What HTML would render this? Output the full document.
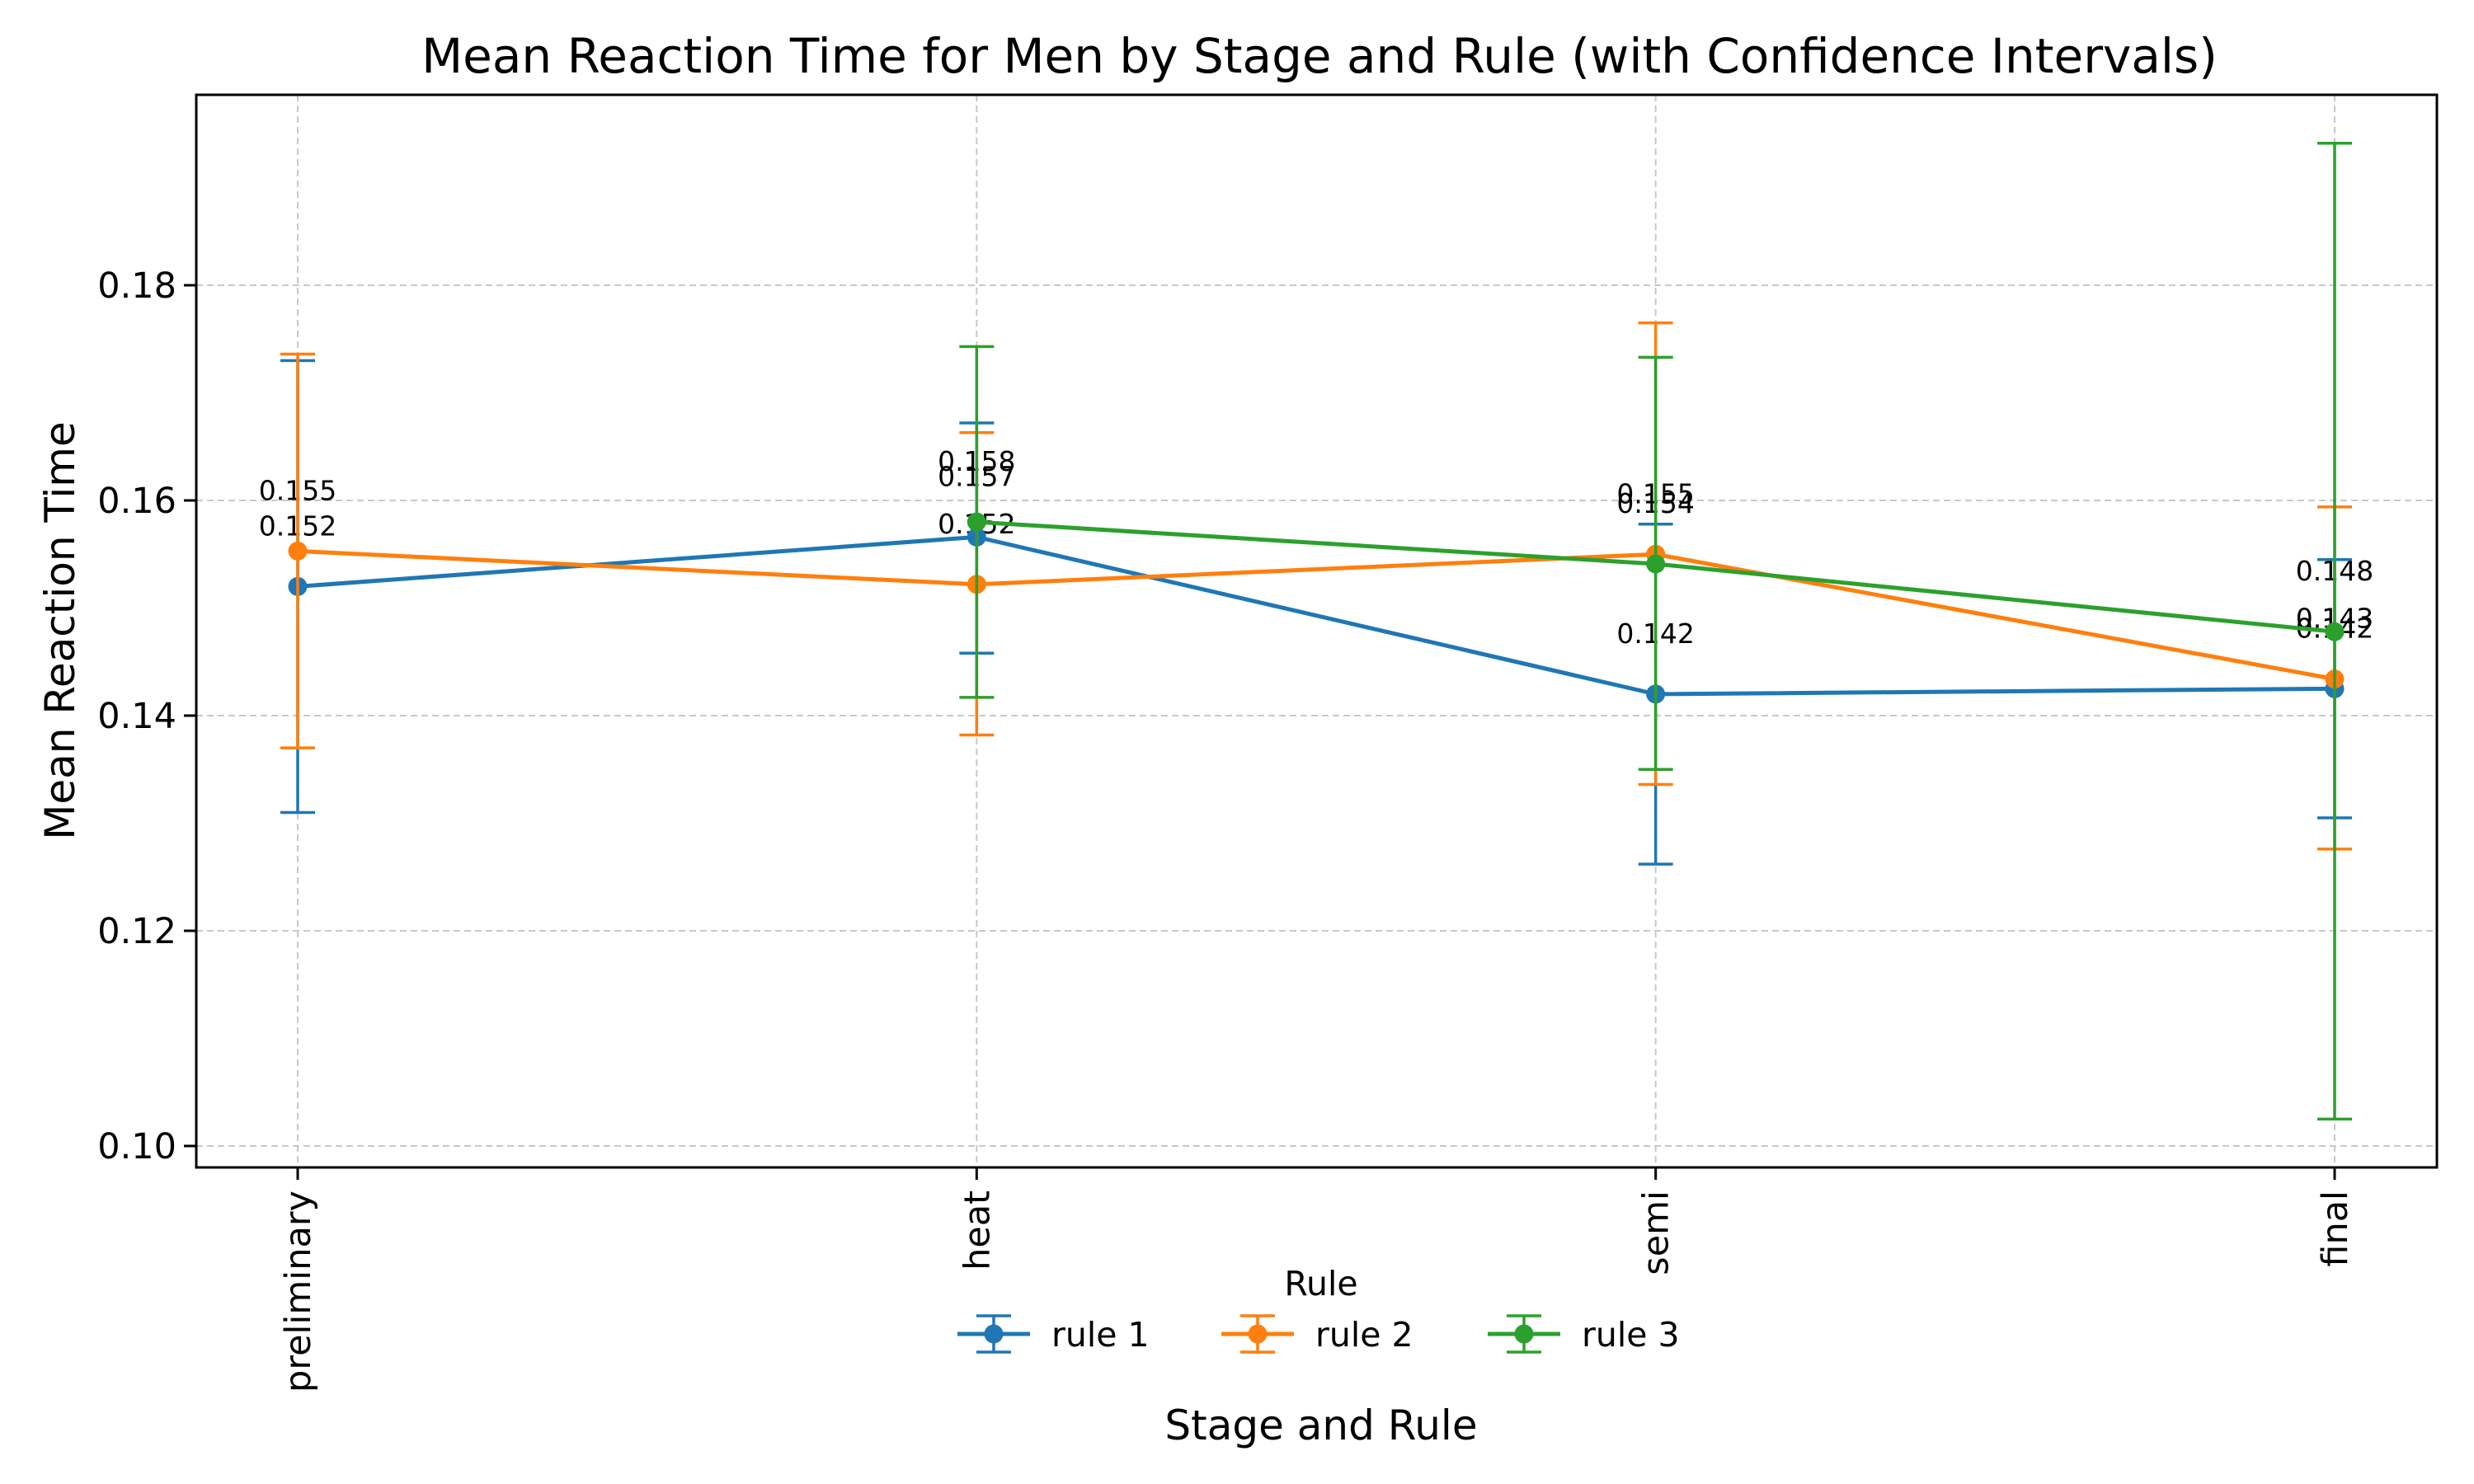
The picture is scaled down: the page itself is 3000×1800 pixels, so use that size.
<!DOCTYPE html>
<html><head><meta charset="utf-8"><style>
html,body{margin:0;padding:0;background:#fff}
svg{display:block;font-family:"DejaVu Sans","Liberation Sans",sans-serif}
</style></head><body>
<svg id="chart" width="3000" height="1800" viewBox="0 0 3000 1800" xmlns="http://www.w3.org/2000/svg">
<rect width="3000" height="1800" fill="#fff"/>
<text x="1600" y="88" font-size="58" text-anchor="middle">Mean Reaction Time for Men by Stage and Rule (with Confidence Intervals)</text>
<g id="grid"></g>
<g id="axes"></g>
<g id="series"></g>
<rect x="238" y="115" width="2717" height="1301" fill="none" stroke="#000" stroke-width="3"/>
<text transform="translate(90,765) rotate(-90)" font-size="50" text-anchor="middle">Mean Reaction Time</text>
<text x="1602" y="1746" font-size="50" text-anchor="middle">Stage and Rule</text>
<g id="legend"></g>
</svg>
<script>
const stages = ["preliminary","heat","semi","final"];
const seriesNames = ["rule 1","rule 2","rule 3"];
const colors = ["#1f77b4","#ff7f0e","#2ca02c"];
const rule1Mean = [0.152, 0.1566, 0.142, 0.1425];
const rule1Low  = [0.131, 0.1458, 0.1262, 0.1305];
const rule1High = [0.173, 0.1672, 0.1578, 0.1545];
const rule2Mean = [0.1553, 0.1522, 0.1550, 0.1434];
const rule2Low  = [0.1370, 0.1382, 0.1336, 0.1276];
const rule2High = [0.1736, 0.1663, 0.1765, 0.1594];
const rule3Mean = [null, 0.158, 0.1541, 0.1478];
const rule3Low  = [null, 0.1417, 0.1350, 0.1025];
const rule3High = [null, 0.1743, 0.1733, 0.1932];
const yTicks = [0.10, 0.12, 0.14, 0.16, 0.18];

const NS="http://www.w3.org/2000/svg";
const X0=361, X1=2831, L=238, R=2955, T=115, B=1416;
function xs(i){return X0+(X1-X0)*i/(stages.length-1);}
function ys(v){return 346+(0.18-v)/0.02*261;}
function mk(tag,attrs,parent,txt){const e=document.createElementNS(NS,tag);for(const k in attrs)e.setAttribute(k,attrs[k]);if(txt!==undefined)e.textContent=txt;parent.appendChild(e);return e;}
const grid=document.getElementById('grid'),axes=document.getElementById('axes'),ser=document.getElementById('series'),leg=document.getElementById('legend');

yTicks.forEach(v=>{
  const y=ys(v);
  const g=mk('line',{x1:L,x2:R,y1:y,y2:y,stroke:'#c8c8c8','stroke-width':2,'stroke-dasharray':'8,5'},grid);
  
  
  const t=mk('line',{x1:L-15,x2:L,y1:y,y2:y,stroke:'#000','stroke-width':3},axes);
  
  
  const lb=mk('text',{x:L-24,y:y+15,'font-size':43,'text-anchor':'end'},axes,v.toFixed(2));
  
  
});
stages.forEach((s,i)=>{
  const x=xs(i);
  const g=mk('line',{x1:x,x2:x,y1:T,y2:B,stroke:'#c8c8c8','stroke-width':2,'stroke-dasharray':'8,5'},grid);
  
  
  const t=mk('line',{x1:x,x2:x,y1:B,y2:B+15,stroke:'#000','stroke-width':3},axes);
  
  
  const lb=mk('text',{transform:`translate(${x+15},${B+28}) rotate(-90)`,'font-size':43,'text-anchor':'end'},axes,s);
  
  
});

const means=[rule1Mean,rule2Mean,rule3Mean],lows=[rule1Low,rule2Low,rule3Low],highs=[rule1High,rule2High,rule3High];
const labelLayer=mk('g',{},ser);
means.forEach((m,si)=>{
  const c=colors[si];
  const g=mk('g',{},ser);
  
  
  let pts=[];
  m.forEach((v,i)=>{if(v===null)return;pts.push(xs(i)+','+ys(v));});
  const pl=mk('polyline',{points:pts.join(' '),fill:'none',stroke:c,'stroke-width':5},g);
  
  
  m.forEach((v,i)=>{
    if(v===null)return;
    const x=xs(i),lo=ys(lows[si][i]),hi=ys(highs[si][i]);
    const eb=mk('path',{d:`M${x},${lo}V${hi}M${x-21},${lo}H${x+21}M${x-21},${hi}H${x+21}`,stroke:c,'stroke-width':3.5,fill:'none'},g);
    
    
    const p=mk('circle',{cx:x,cy:ys(v),r:11.5,fill:c},g);
    
    
    const t=mk('text',{x:x,y:ys(v)-62,'font-size':33,'text-anchor':'middle'},labelLayer,v.toFixed(3));
    
    
  });
});

const lt=mk('text',{x:1602,y:1571,'font-size':41,'text-anchor':'middle'},leg,'Rule');


const hx=[1161,1481,1804];
seriesNames.forEach((n,i)=>{
  const c=colors[i],x=hx[i],y=1618,cx=x+44;
  const e=mk('g',{},leg);
  
  
  mk('line',{x1:x,x2:x+88,y1:y,y2:y,stroke:c,'stroke-width':5},e);
  mk('path',{d:`M${cx},${y-22}V${y+22}M${cx-21},${y-22}H${cx+21}M${cx-21},${y+22}H${cx+21}`,stroke:c,'stroke-width':3.5,fill:'none'},e);
  mk('circle',{cx:cx,cy:y,r:11.5,fill:c},e);
  mk('text',{x:x+114,y:y+15,'font-size':41},e,n);
});
</script>
</body></html>
